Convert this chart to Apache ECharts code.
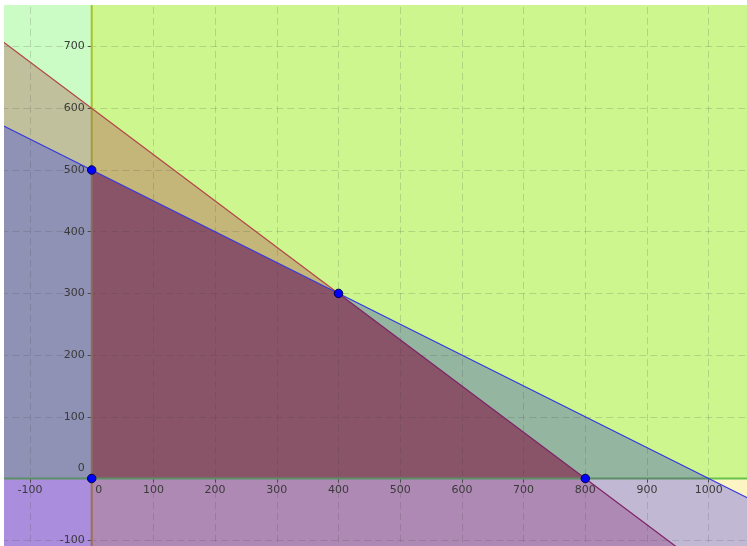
<!DOCTYPE html>
<html>
<head>
<meta charset="utf-8">
<script src="https://cdn.jsdelivr.net/npm/echarts@6/dist/echarts.min.js"></script>
<style>
  html, body { margin: 0; padding: 0; background: #fff; }
  #chart { width: 747px; height: 546px; }
</style>
</head>
<body>
<div id="chart"></div>
<script>
// Constraint boundaries, each given by its two intercepts
const redLine = [[0, 600], [800, 0]];    // 3x + 4y = 2400
const blueLine = [[0, 500], [1000, 0]];  // x + 2y = 1000

// Vertices of the feasible region
const cornerPoints = [[0, 0], [0, 500], [400, 300], [800, 0]];

// Visible window of the plane
const xRange = [-200, 1100];
const yRange = [-200, 800];

// Straight-line helpers through two points
function yOn(line, x) {
  const [[x1, y1], [x2, y2]] = line;
  return y1 + (y2 - y1) * (x - x1) / (x2 - x1);
}
function xOn(line, y) {
  const [[x1, y1], [x2, y2]] = line;
  return x1 + (x2 - x1) * (y - y1) / (y2 - y1);
}

const [X0, X1] = xRange;
const [Y0, Y1] = yRange;
const cross = [400, 300];

// Shaded half-plane overlaps, one polygon per colour
const regions = [
  { color: '#cbfcc5', pts: [[X0, yOn(redLine, X0)], [0, 600], [0, Y1], [X0, Y1]] },
  { color: '#cdf68e', pts: [[0, 600], cross, [1000, 0], [X1, 0], [X1, Y1], [0, Y1]] },
  { color: '#c0c09c', pts: [[X0, yOn(blueLine, X0)], [0, 500], [0, 600], [X0, yOn(redLine, X0)]] },
  { color: '#8f92b5', pts: [[X0, 0], [0, 0], [0, 500], [X0, yOn(blueLine, X0)]] },
  { color: '#c4b679', pts: [[0, 500], cross, [0, 600]] },
  { color: '#8a5468', pts: [[0, 0], [800, 0], cross, [0, 500]] },
  { color: '#94b5a0', pts: [cross, [1000, 0], [800, 0]] },
  { color: '#aa8ddc', pts: [[X0, Y0], [0, Y0], [0, 0], [X0, 0]] },
  { color: '#ae89b4', pts: [[0, 0], [800, 0], [xOn(redLine, Y0), Y0], [0, Y0]] },
  { color: '#c1b9d3', pts: [[800, 0], [1000, 0], [X1, yOn(blueLine, X1)], [X1, Y0], [xOn(redLine, Y0), Y0]] },
  { color: '#fdf4c4', pts: [[1000, 0], [X1, 0], [X1, yOn(blueLine, X1)]] }
];

// Boundary strokes, split where their apparent colour changes
const strokes = [
  { color: '#5d8f66', width: 2, pts: [[X0, 0], [1000, 0]] },
  { color: '#66c24a', width: 2, pts: [[1000, 0], [X1, 0]] },
  { color: '#9c7052', width: 2, pts: [[0, Y0], [0, 0]] },
  { color: '#8c6d62', width: 2, pts: [[0, 0], [0, 500]] },
  { color: '#a59a3c', width: 2, pts: [[0, 500], [0, 600]] },
  { color: '#a8c02c', width: 2, pts: [[0, 600], [0, Y1]] },
  { color: '#b04545', width: 1.2, pts: [[X0, yOn(redLine, X0)], cross] },
  { color: '#7d2065', width: 1.2, pts: [cross, [xOn(redLine, Y0), Y0]] },
  { color: '#3333dd', width: 1.2, pts: [[X0, yOn(blueLine, X0)], [X1, yOn(blueLine, X1)]] }
];

const labelFont = { fontFamily: 'DejaVu Sans', fontSize: 11, color: '#3a3a3a' };
const gridDash = { type: [7, 4], color: 'rgba(60,60,60,0.18)', width: 1 };

// Plot frame in pixels: the origin sits at (91.7, 478.5), 0.617 px per unit
const frame = { left: -31.7, right: -23.4, top: -15.1, bottom: -55.9 };
const axisShift = -123.4; // moves each axis from the frame edge onto the origin

const chart = echarts.init(document.getElementById('chart'), null, { renderer: 'canvas' });

const series = [
  {
    type: 'custom',
    z: 1,
    silent: true,
    data: regions.map(r => r.pts[0]),
    renderItem: function (params, api) {
      const r = regions[params.dataIndex];
      return {
        type: 'polygon',
        shape: { points: r.pts.map(p => api.coord(p)) },
        style: { fill: r.color }
      };
    },
    clip: true
  }
];

strokes.forEach(s => {
  series.push({
    type: 'line',
    z: 10,
    silent: true,
    symbol: 'none',
    data: s.pts,
    lineStyle: { color: s.color, width: s.width },
    clip: true
  });
});

series.push({
  type: 'scatter',
  z: 12,
  silent: true,
  symbolSize: 8.5,
  data: cornerPoints,
  itemStyle: { color: '#0000ff', borderColor: '#000040', borderWidth: 1, opacity: 1 }
});

chart.setOption({
  animation: false,
  backgroundColor: '#ffffff',
  grid: Object.assign({ containLabel: false, outerBoundsMode: 'none' }, frame),
  xAxis: {
    type: 'value',
    min: X0, max: X1, interval: 100,
    position: 'bottom',
    offset: axisShift,
    z: 5,
    axisLine: { show: true, onZero: false, lineStyle: { color: 'rgba(0,0,0,0)' } },
    axisTick: { show: true, length: 4, lineStyle: { color: '#4a4a4a' } },
    axisLabel: Object.assign({
      margin: 6,
      formatter: v => v === 0 ? '{z|0}' : String(v),
      rich: { z: Object.assign({ padding: [0, 0, 0, 14] }, labelFont) }
    }, labelFont),
    splitLine: { show: true, lineStyle: gridDash }
  },
  yAxis: {
    type: 'value',
    min: Y0, max: Y1, interval: 100,
    position: 'left',
    offset: axisShift,
    z: 5,
    axisLine: { show: true, onZero: false, lineStyle: { color: 'rgba(0,0,0,0)' } },
    axisTick: { show: true, length: 4, lineStyle: { color: '#4a4a4a' } },
    axisLabel: Object.assign({
      margin: 7,
      formatter: v => v === 0 ? '{z|0}' : String(v),
      rich: { z: Object.assign({ padding: [0, 0, 20, 0] }, labelFont) }
    }, labelFont),
    splitLine: { show: true, lineStyle: gridDash }
  },
  graphic: [
    { type: 'rect', z: 100, shape: { x: 0, y: 0, width: 747, height: 5 }, style: { fill: '#ffffff' } },
    { type: 'rect', z: 100, shape: { x: 0, y: 0, width: 4, height: 546 }, style: { fill: '#ffffff' } }
  ],
  series: series
});
</script>
</body>
</html>
